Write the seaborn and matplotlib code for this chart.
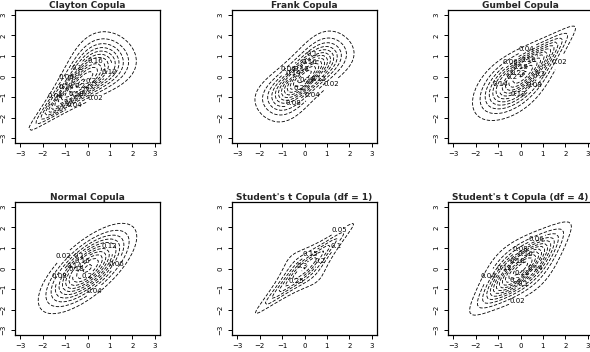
import math
import numpy as np
import matplotlib
matplotlib.use("Agg")
import matplotlib.pyplot as plt
import seaborn as sns

# panel setup: copula family, parameter, degrees of freedom (t only)
titles = ["Clayton Copula", "Frank Copula", "Gumbel Copula",
          "Normal Copula", "Student's t Copula (df = 1)", "Student's t Copula (df = 4)"]
families = ["clayton", "frank", "gumbel", "normal", "t", "t"]
params = [2.0, 5.74, 2.0, 0.707, 0.707, 0.707]
dfs = [None, None, None, None, 1, 4]
n_levels = 10
ticks = [-3, -2, -1, 0, 1, 2, 3]

sns.set_theme(style="ticks")
plt.rcParams["font.family"] = ["DejaVu Sans"]

erf = np.vectorize(math.erf)


def pnorm(x):
    return 0.5 * (1 + erf(x / math.sqrt(2)))


def dnorm(x):
    return np.exp(-x ** 2 / 2) / math.sqrt(2 * math.pi)


def qt(p, nu):
    if nu == 1:
        return np.tan(np.pi * (p - 0.5))
    a = 4 * p * (1 - p)
    q = np.cos(np.arccos(np.sqrt(a)) / 3) / np.sqrt(a)
    return np.sign(p - 0.5) * 2 * np.sqrt(q - 1)


def dt(t, nu):
    c = math.exp(math.lgamma((nu + 1) / 2) - math.lgamma(nu / 2)) / math.sqrt(nu * math.pi)
    return c * (1 + t ** 2 / nu) ** (-(nu + 1) / 2)


def density(fam, th, nu, x, y):
    u, v = pnorm(x), pnorm(y)
    if fam == "clayton":
        lc = (math.log(1 + th) - (th + 1) * (np.log(u) + np.log(v))
              - (2 + 1 / th) * np.log(u ** -th + v ** -th - 1))
        c = np.exp(lc)
    elif fam == "frank":
        e = 1 - math.exp(-th)
        c = th * e * np.exp(-th * (u + v)) / (e - (1 - np.exp(-th * u)) * (1 - np.exp(-th * v))) ** 2
    elif fam == "gumbel":
        lu, lv = -np.log(u), -np.log(v)
        A = lu ** th + lv ** th
        C = np.exp(-A ** (1 / th))
        c = C / (u * v) * (lu * lv) ** (th - 1) * A ** (2 / th - 2) * (1 + (th - 1) * A ** (-1 / th))
    elif fam == "normal":
        r = th
        q = (x ** 2 - 2 * r * x * y + y ** 2) / (1 - r ** 2)
        return np.exp(-q / 2) / (2 * math.pi * math.sqrt(1 - r ** 2))
    else:
        r = th
        a, b = qt(u, nu), qt(v, nu)
        k = math.exp(math.lgamma((nu + 2) / 2) - math.lgamma(nu / 2)) / (nu * math.pi * math.sqrt(1 - r ** 2))
        f2 = k * (1 + (a ** 2 - 2 * r * a * b + b ** 2) / (nu * (1 - r ** 2))) ** (-(nu + 2) / 2)
        c = f2 / (dt(a, nu) * dt(b, nu))
    return c * dnorm(x) * dnorm(y)


def pretty_step(zmax, n):
    # like R's pretty(): unit of 1, 2, 5 or 10 times a power of ten
    cell = zmax / n
    base = 10 ** math.floor(math.log10(cell))
    unit = base
    if 2 * base - cell < 1.5 * (cell - unit):
        unit = 2 * base
        if 5 * base - cell < 2.75 * (cell - unit):
            unit = 5 * base
            if 10 * base - cell < 1.5 * (cell - unit):
                unit = 10 * base
    return unit


fig = plt.figure(figsize=(5.9, 3.52), dpi=100)
lefts = [15, 232, 448]
bottoms = [209, 17]
g = np.linspace(-3, 3, 51)
X, Y = np.meshgrid(g, g)

for i, title in enumerate(titles):
    ax = fig.add_axes([lefts[i % 3] / 590, bottoms[i // 3] / 352, 145 / 590, 133 / 352])
    Z = density(families[i], params[i], dfs[i], X, Y)
    step = pretty_step(np.nanmax(Z), n_levels)
    levels = np.arange(step, np.nanmax(Z), step)
    cs = ax.contour(X, Y, Z, levels=levels, colors="black", linewidths=0.6,
                    linestyles=[(0, (4, 2))])
    labs = ax.clabel(cs, fmt="%g", fontsize=5, inline=True, inline_spacing=2, colors="black")
    for t in labs:
        t.set_rotation(0)
    ax.set_xlim(-3.24, 3.24)
    ax.set_ylim(-3.24, 3.24)
    ax.set_xticks(ticks)
    ax.set_yticks(ticks)
    ax.tick_params(direction="out", length=3, width=0.7, labelsize=5, pad=3, colors="black")
    for lab in ax.get_yticklabels():
        lab.set_rotation(90)
        lab.set_va("center")
    for s in ax.spines.values():
        s.set_linewidth(0.9)
        s.set_color("black")
    ax.set_title(title, fontsize=6.5, fontweight="bold", pad=1.5)

fig.savefig("out.png", dpi=100, facecolor="white")
